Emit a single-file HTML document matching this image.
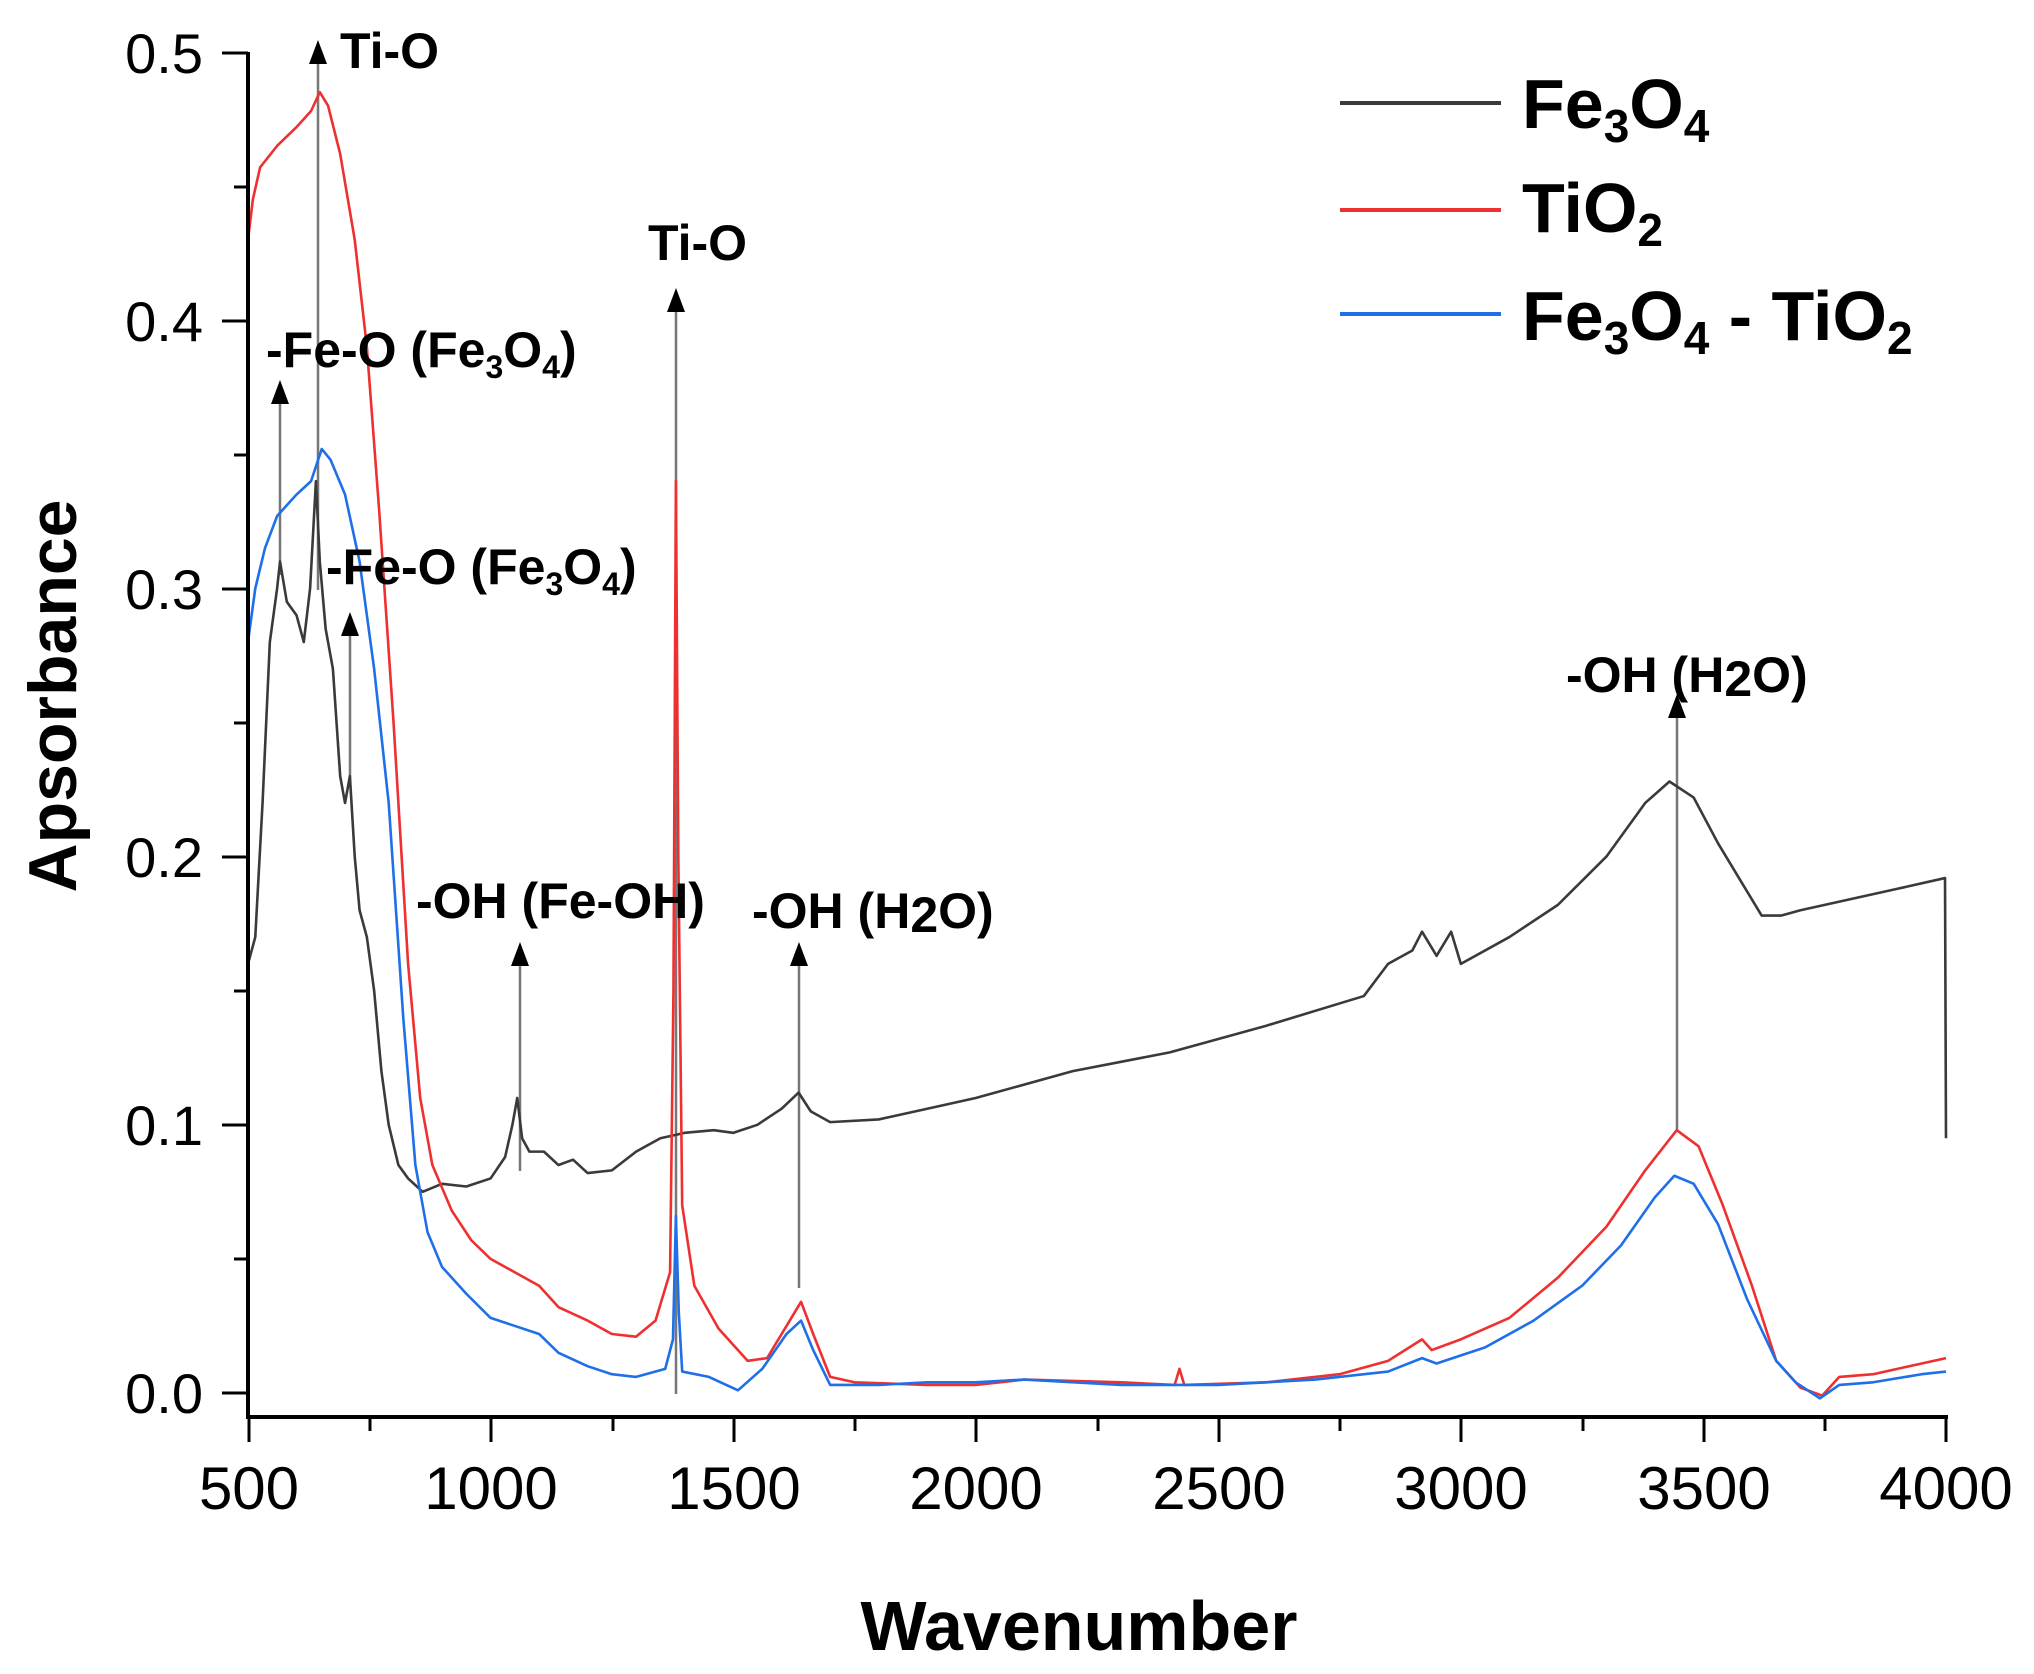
<!DOCTYPE html>
<html><head><meta charset="utf-8"><style>
html,body{margin:0;padding:0;background:#fff;}
svg{display:block;font-family:"Liberation Sans",sans-serif;}
</style></head><body>
<svg width="2034" height="1674" viewBox="0 0 2034 1674" xmlns="http://www.w3.org/2000/svg">
<rect width="2034" height="1674" fill="#fff"/>
<g stroke="#777" stroke-width="2.5" fill="none">
<line x1="318" y1="60" x2="318" y2="590"/>
<line x1="280" y1="400" x2="280" y2="575"/>
<line x1="350" y1="630" x2="350" y2="785"/>
<line x1="676" y1="305" x2="676" y2="1394"/>
<line x1="520" y1="960" x2="520" y2="1171"/>
<line x1="799" y1="960" x2="799" y2="1288"/>
<line x1="1677" y1="712" x2="1677" y2="1132"/>
</g>
<g fill="#000">
<polygon points="318,40 309,64 327,64"/>
<polygon points="280,380 271,404 289,404"/>
<polygon points="350,612 341,636 359,636"/>
<polygon points="676,288 667,312 685,312"/>
<polygon points="520,942 511,966 529,966"/>
<polygon points="799,942 790,966 808,966"/>
<polygon points="1677,694 1668,718 1686,718"/>
</g>
<g transform="translate(248,1393) scale(0.48514,-2682) translate(-500,0)" fill="none" stroke-width="2.6" stroke-linejoin="round">
<polyline vector-effect="non-scaling-stroke" stroke="#3a3a3a" points="500,0.16 515,0.17 530,0.22 545,0.28 560,0.30 566,0.31 580,0.295 600,0.29 615,0.28 628,0.3 640,0.34 648,0.31 660,0.285 675,0.27 690,0.23 700,0.22 710,0.23 720,0.2 730,0.18 745,0.17 760,0.15 775,0.12 790,0.10 810,0.085 830,0.08 860,0.075 900,0.078 950,0.077 1000,0.08 1030,0.088 1045,0.1 1055,0.11 1065,0.095 1080,0.09 1110,0.09 1140,0.085 1170,0.087 1200,0.082 1250,0.083 1300,0.09 1350,0.095 1400,0.097 1460,0.098 1500,0.097 1550,0.1 1600,0.106 1635,0.112 1660,0.105 1700,0.101 1800,0.102 1900,0.106 2000,0.11 2200,0.12 2400,0.127 2600,0.137 2800,0.148 2850,0.16 2900,0.165 2920,0.172 2950,0.163 2980,0.172 3000,0.16 3100,0.17 3200,0.182 3300,0.2 3380,0.22 3430,0.228 3480,0.222 3530,0.205 3580,0.19 3620,0.178 3660,0.178 3700,0.18 3800,0.184 3900,0.188 3998,0.192 4000,0.095"/>
<polyline vector-effect="non-scaling-stroke" stroke="#ee3030" points="500,0.43 510,0.445 525,0.457 560,0.465 600,0.472 630,0.478 648,0.485 665,0.48 690,0.462 720,0.43 745,0.39 770,0.33 800,0.25 830,0.16 855,0.11 880,0.085 920,0.068 960,0.057 1000,0.05 1060,0.044 1100,0.04 1140,0.032 1200,0.027 1250,0.022 1300,0.021 1340,0.027 1370,0.045 1377,0.15 1382,0.34 1387,0.2 1395,0.07 1420,0.04 1470,0.024 1530,0.012 1570,0.013 1610,0.025 1640,0.034 1665,0.022 1700,0.006 1750,0.004 1900,0.003 2000,0.003 2100,0.005 2300,0.004 2410,0.003 2420,0.009 2430,0.003 2600,0.004 2750,0.007 2850,0.012 2920,0.02 2940,0.016 3000,0.02 3100,0.028 3200,0.043 3300,0.062 3380,0.083 3445,0.098 3490,0.092 3540,0.07 3600,0.04 3650,0.012 3700,0.002 3745,-0.001 3780,0.006 3850,0.007 3950,0.011 4000,0.013"/>
<polyline vector-effect="non-scaling-stroke" stroke="#1f6fe8" points="500,0.28 515,0.3 535,0.315 560,0.327 600,0.335 630,0.34 652,0.352 670,0.348 700,0.335 730,0.31 760,0.27 790,0.22 820,0.14 845,0.085 870,0.06 900,0.047 950,0.037 1000,0.028 1050,0.025 1100,0.022 1140,0.015 1200,0.01 1250,0.007 1300,0.006 1360,0.009 1376,0.02 1382,0.066 1388,0.03 1395,0.008 1450,0.006 1510,0.001 1560,0.009 1610,0.022 1640,0.027 1665,0.016 1700,0.003 1800,0.003 1900,0.004 2000,0.004 2100,0.005 2300,0.003 2500,0.003 2700,0.005 2850,0.008 2920,0.013 2950,0.011 3050,0.017 3150,0.027 3250,0.04 3330,0.055 3400,0.073 3440,0.081 3480,0.078 3530,0.063 3590,0.035 3650,0.012 3690,0.004 3740,-0.002 3780,0.003 3850,0.004 3950,0.007 4000,0.008"/>
</g>
<g stroke="#000" stroke-width="4">
<line x1="248" y1="52" x2="248" y2="1418"/>
<line x1="246" y1="1417" x2="1948" y2="1417"/>
</g>
<g stroke="#000" stroke-width="3">
<line x1="222" y1="53" x2="248" y2="53"/><line x1="222" y1="321" x2="248" y2="321"/><line x1="222" y1="589" x2="248" y2="589"/><line x1="222" y1="857" x2="248" y2="857"/><line x1="222" y1="1125" x2="248" y2="1125"/><line x1="222" y1="1393" x2="248" y2="1393"/>
<line x1="234" y1="187" x2="248" y2="187"/><line x1="234" y1="455" x2="248" y2="455"/><line x1="234" y1="723" x2="248" y2="723"/><line x1="234" y1="991" x2="248" y2="991"/><line x1="234" y1="1259" x2="248" y2="1259"/>
<line x1="249" y1="1417" x2="249" y2="1442"/><line x1="491" y1="1417" x2="491" y2="1442"/><line x1="734" y1="1417" x2="734" y2="1442"/><line x1="976" y1="1417" x2="976" y2="1442"/><line x1="1219" y1="1417" x2="1219" y2="1442"/><line x1="1461" y1="1417" x2="1461" y2="1442"/><line x1="1704" y1="1417" x2="1704" y2="1442"/><line x1="1946" y1="1417" x2="1946" y2="1442"/>
<line x1="370" y1="1417" x2="370" y2="1431"/><line x1="613" y1="1417" x2="613" y2="1431"/><line x1="855" y1="1417" x2="855" y2="1431"/><line x1="1098" y1="1417" x2="1098" y2="1431"/><line x1="1340" y1="1417" x2="1340" y2="1431"/><line x1="1583" y1="1417" x2="1583" y2="1431"/><line x1="1825" y1="1417" x2="1825" y2="1431"/>
</g>
<g font-size="56" text-anchor="end" fill="#000">
<text x="203" y="73">0.5</text><text x="203" y="341">0.4</text><text x="203" y="609">0.3</text><text x="203" y="877">0.2</text><text x="203" y="1145">0.1</text><text x="203" y="1413">0.0</text>
</g>
<g font-size="60" text-anchor="middle" fill="#000">
<text x="249" y="1509">500</text><text x="491" y="1509">1000</text><text x="734" y="1509">1500</text><text x="976" y="1509">2000</text><text x="1219" y="1509">2500</text><text x="1461" y="1509">3000</text><text x="1704" y="1509">3500</text><text x="1946" y="1509">4000</text>
</g>
<text x="1079" y="1650" font-size="70" font-weight="bold" text-anchor="middle">Wavenumber</text>
<text transform="translate(76,696) rotate(-90)" font-size="68" font-weight="bold" text-anchor="middle">Apsorbance</text>
<g font-size="50" font-weight="bold" fill="#000">
<text x="340" y="68">Ti-O</text>
<text x="648" y="260">Ti-O</text>
<text x="266" y="367">-Fe-O (Fe<tspan font-size="32" dy="11">3</tspan><tspan dy="-11">O</tspan><tspan font-size="32" dy="11">4</tspan><tspan dy="-11">)</tspan></text>
<text x="326" y="584">-Fe-O (Fe<tspan font-size="32" dy="11">3</tspan><tspan dy="-11">O</tspan><tspan font-size="32" dy="11">4</tspan><tspan dy="-11">)</tspan></text>
<text x="416" y="918">-OH (Fe-OH)</text>
<text x="752" y="928">-OH (H<tspan dy="4">2</tspan><tspan dy="-4">O)</tspan></text>
<text x="1566" y="692">-OH (H<tspan dy="4">2</tspan><tspan dy="-4">O)</tspan></text>
</g>
<g stroke-width="4">
<line x1="1340" y1="103" x2="1501" y2="103" stroke="#3a3a3a"/>
<line x1="1340" y1="210" x2="1501" y2="210" stroke="#ee3030"/>
<line x1="1340" y1="314" x2="1501" y2="314" stroke="#1f6fe8"/>
</g>
<g font-size="70" font-weight="bold" fill="#000">
<text x="1522" y="128">Fe<tspan font-size="46" dy="14">3</tspan><tspan dy="-14">O</tspan><tspan font-size="46" dy="14">4</tspan></text>
<text x="1522" y="232">TiO<tspan font-size="46" dy="14">2</tspan></text>
<text x="1522" y="340">Fe<tspan font-size="46" dy="14">3</tspan><tspan dy="-14">O</tspan><tspan font-size="46" dy="14">4</tspan><tspan dy="-14"> - TiO</tspan><tspan font-size="46" dy="14">2</tspan></text>
</g>
</svg>
</body></html>
